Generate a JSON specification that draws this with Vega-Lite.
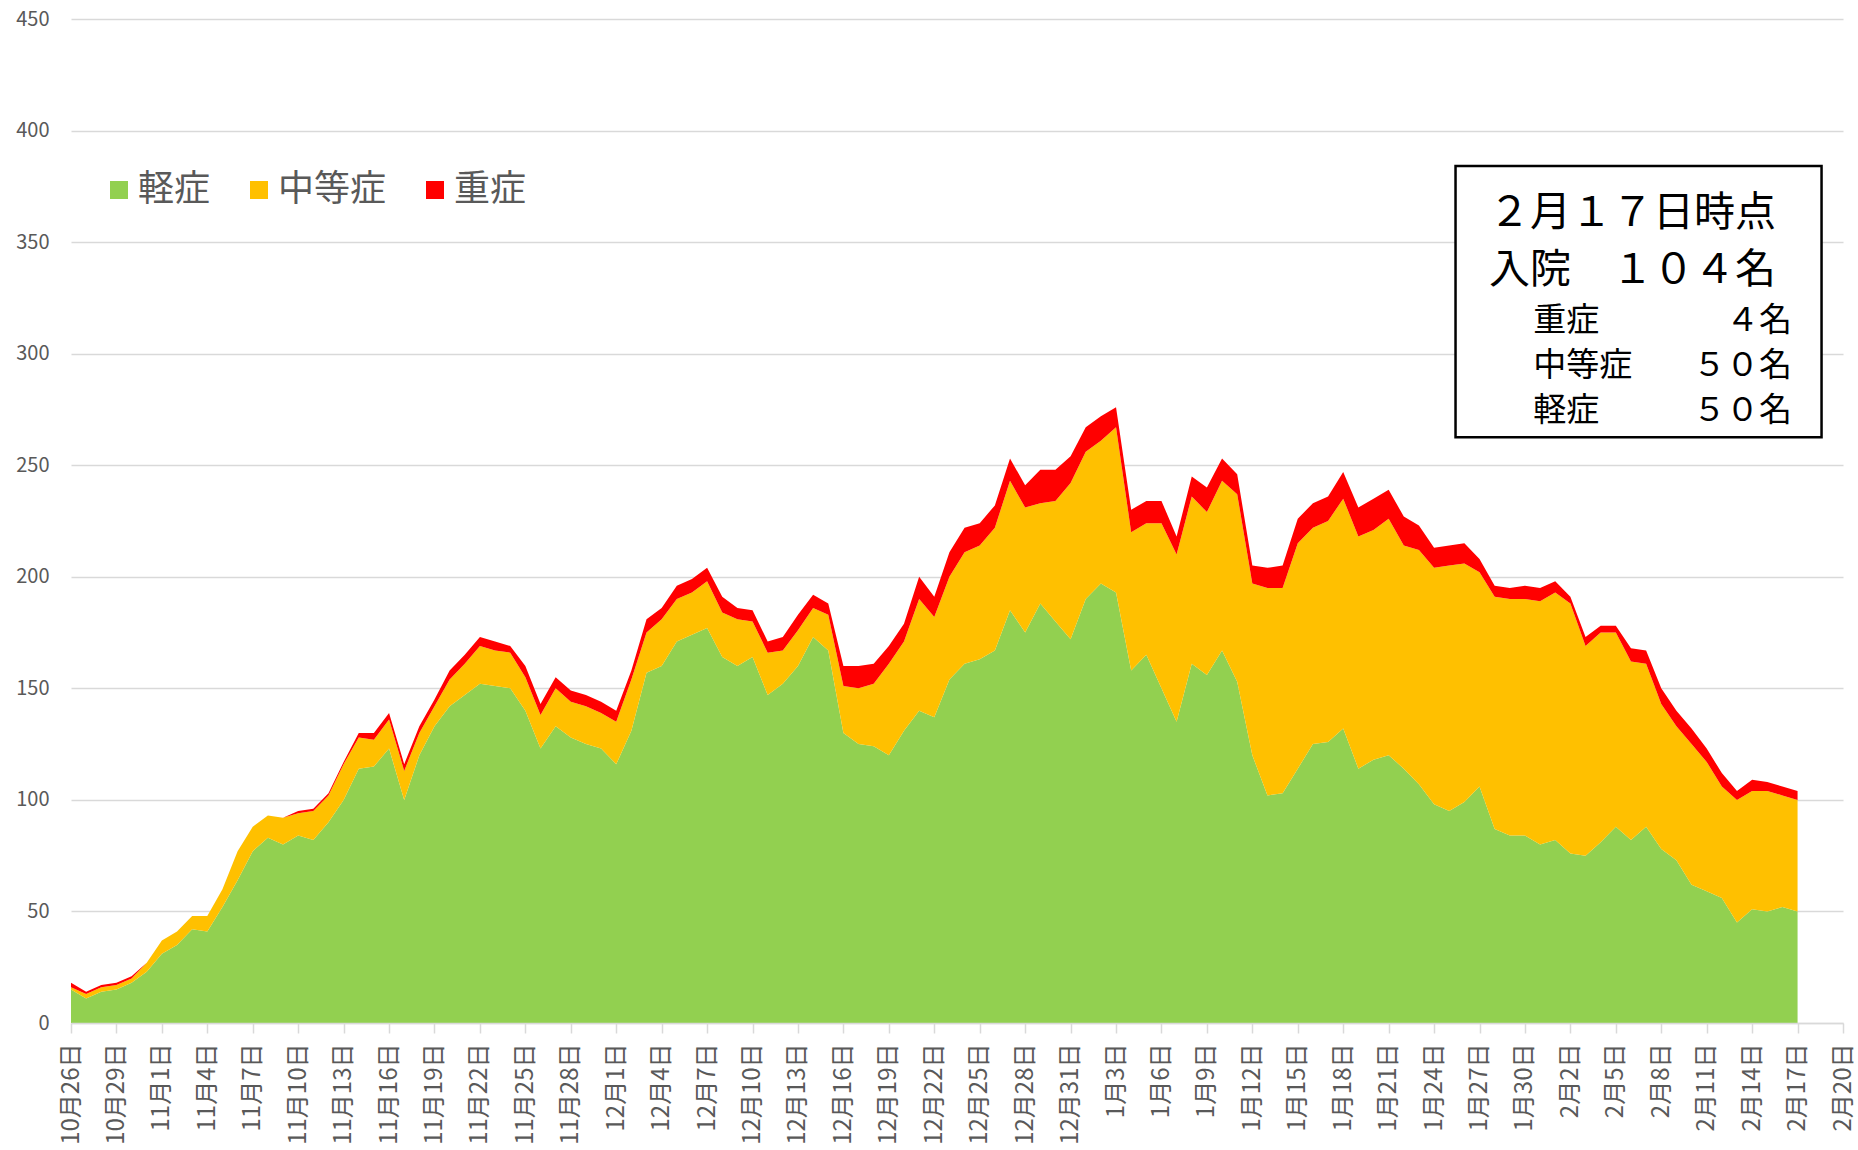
{
  "$schema": "https://vega.github.io/schema/vega-lite/v6.json",
  "autosize": {"type": "none"},
  "width": 1772,
  "height": 1004,
  "padding": {"left": 71, "top": 19, "right": 15, "bottom": 127},
  "background": "white",
  "config": {
    "font": "Noto Sans CJK JP",
    "view": {"stroke": null}
  },
  "layer": [
    {
      "data": {
        "format": {"parse": {"date": "date:'%Y-%m-%d'"}},
        "values": [
          {"date":"2020-10-26","mild":15,"moderate":1,"severe":2},
          {"date":"2020-10-27","mild":11,"moderate":2,"severe":1},
          {"date":"2020-10-28","mild":14,"moderate":2,"severe":1},
          {"date":"2020-10-29","mild":15,"moderate":2,"severe":1},
          {"date":"2020-10-30","mild":18,"moderate":2,"severe":1},
          {"date":"2020-10-31","mild":23,"moderate":4,"severe":0},
          {"date":"2020-11-01","mild":31,"moderate":6,"severe":0},
          {"date":"2020-11-02","mild":35,"moderate":6,"severe":0},
          {"date":"2020-11-03","mild":42,"moderate":6,"severe":0},
          {"date":"2020-11-04","mild":41,"moderate":7,"severe":0},
          {"date":"2020-11-05","mild":52,"moderate":8,"severe":0},
          {"date":"2020-11-06","mild":64,"moderate":13,"severe":0},
          {"date":"2020-11-07","mild":77,"moderate":11,"severe":0},
          {"date":"2020-11-08","mild":83,"moderate":10,"severe":0},
          {"date":"2020-11-09","mild":80,"moderate":12,"severe":0},
          {"date":"2020-11-10","mild":84,"moderate":10,"severe":1},
          {"date":"2020-11-11","mild":82,"moderate":13,"severe":1},
          {"date":"2020-11-12","mild":90,"moderate":12,"severe":1},
          {"date":"2020-11-13","mild":100,"moderate":16,"severe":1},
          {"date":"2020-11-14","mild":114,"moderate":14,"severe":2},
          {"date":"2020-11-15","mild":115,"moderate":12,"severe":3},
          {"date":"2020-11-16","mild":123,"moderate":13,"severe":3},
          {"date":"2020-11-17","mild":100,"moderate":13,"severe":3},
          {"date":"2020-11-18","mild":120,"moderate":10,"severe":3},
          {"date":"2020-11-19","mild":133,"moderate":9,"severe":3},
          {"date":"2020-11-20","mild":142,"moderate":12,"severe":4},
          {"date":"2020-11-21","mild":147,"moderate":14,"severe":4},
          {"date":"2020-11-22","mild":152,"moderate":17,"severe":4},
          {"date":"2020-11-23","mild":151,"moderate":16,"severe":4},
          {"date":"2020-11-24","mild":150,"moderate":16,"severe":3},
          {"date":"2020-11-25","mild":140,"moderate":15,"severe":5},
          {"date":"2020-11-26","mild":123,"moderate":15,"severe":5},
          {"date":"2020-11-27","mild":133,"moderate":17,"severe":5},
          {"date":"2020-11-28","mild":128,"moderate":16,"severe":5},
          {"date":"2020-11-29","mild":125,"moderate":17,"severe":5},
          {"date":"2020-11-30","mild":123,"moderate":16,"severe":5},
          {"date":"2020-12-01","mild":116,"moderate":19,"severe":5},
          {"date":"2020-12-02","mild":131,"moderate":23,"severe":4},
          {"date":"2020-12-03","mild":157,"moderate":18,"severe":6},
          {"date":"2020-12-04","mild":160,"moderate":21,"severe":5},
          {"date":"2020-12-05","mild":171,"moderate":19,"severe":6},
          {"date":"2020-12-06","mild":174,"moderate":19,"severe":6},
          {"date":"2020-12-07","mild":177,"moderate":21,"severe":6},
          {"date":"2020-12-08","mild":164,"moderate":20,"severe":7},
          {"date":"2020-12-09","mild":160,"moderate":21,"severe":5},
          {"date":"2020-12-10","mild":164,"moderate":16,"severe":5},
          {"date":"2020-12-11","mild":147,"moderate":19,"severe":5},
          {"date":"2020-12-12","mild":152,"moderate":15,"severe":6},
          {"date":"2020-12-13","mild":160,"moderate":16,"severe":7},
          {"date":"2020-12-14","mild":173,"moderate":13,"severe":6},
          {"date":"2020-12-15","mild":167,"moderate":16,"severe":5},
          {"date":"2020-12-16","mild":130,"moderate":21,"severe":9},
          {"date":"2020-12-17","mild":125,"moderate":25,"severe":10},
          {"date":"2020-12-18","mild":124,"moderate":28,"severe":9},
          {"date":"2020-12-19","mild":120,"moderate":41,"severe":8},
          {"date":"2020-12-20","mild":131,"moderate":40,"severe":8},
          {"date":"2020-12-21","mild":140,"moderate":50,"severe":10},
          {"date":"2020-12-22","mild":137,"moderate":45,"severe":9},
          {"date":"2020-12-23","mild":154,"moderate":46,"severe":11},
          {"date":"2020-12-24","mild":161,"moderate":50,"severe":11},
          {"date":"2020-12-25","mild":163,"moderate":51,"severe":10},
          {"date":"2020-12-26","mild":167,"moderate":55,"severe":10},
          {"date":"2020-12-27","mild":185,"moderate":58,"severe":10},
          {"date":"2020-12-28","mild":175,"moderate":56,"severe":10},
          {"date":"2020-12-29","mild":188,"moderate":45,"severe":15},
          {"date":"2020-12-30","mild":180,"moderate":54,"severe":14},
          {"date":"2020-12-31","mild":172,"moderate":70,"severe":12},
          {"date":"2021-01-01","mild":190,"moderate":66,"severe":11},
          {"date":"2021-01-02","mild":197,"moderate":64,"severe":11},
          {"date":"2021-01-03","mild":193,"moderate":74,"severe":9},
          {"date":"2021-01-04","mild":158,"moderate":62,"severe":10},
          {"date":"2021-01-05","mild":165,"moderate":59,"severe":10},
          {"date":"2021-01-06","mild":150,"moderate":74,"severe":10},
          {"date":"2021-01-07","mild":135,"moderate":75,"severe":8},
          {"date":"2021-01-08","mild":161,"moderate":75,"severe":9},
          {"date":"2021-01-09","mild":156,"moderate":73,"severe":11},
          {"date":"2021-01-10","mild":167,"moderate":76,"severe":10},
          {"date":"2021-01-11","mild":153,"moderate":84,"severe":9},
          {"date":"2021-01-12","mild":120,"moderate":77,"severe":8},
          {"date":"2021-01-13","mild":102,"moderate":93,"severe":9},
          {"date":"2021-01-14","mild":103,"moderate":92,"severe":10},
          {"date":"2021-01-15","mild":114,"moderate":101,"severe":11},
          {"date":"2021-01-16","mild":125,"moderate":97,"severe":11},
          {"date":"2021-01-17","mild":126,"moderate":99,"severe":11},
          {"date":"2021-01-18","mild":132,"moderate":103,"severe":12},
          {"date":"2021-01-19","mild":114,"moderate":104,"severe":13},
          {"date":"2021-01-20","mild":118,"moderate":103,"severe":14},
          {"date":"2021-01-21","mild":120,"moderate":106,"severe":13},
          {"date":"2021-01-22","mild":114,"moderate":100,"severe":13},
          {"date":"2021-01-23","mild":107,"moderate":105,"severe":11},
          {"date":"2021-01-24","mild":98,"moderate":106,"severe":9},
          {"date":"2021-01-25","mild":95,"moderate":110,"severe":9},
          {"date":"2021-01-26","mild":99,"moderate":107,"severe":9},
          {"date":"2021-01-27","mild":106,"moderate":96,"severe":6},
          {"date":"2021-01-28","mild":87,"moderate":104,"severe":5},
          {"date":"2021-01-29","mild":84,"moderate":106,"severe":5},
          {"date":"2021-01-30","mild":84,"moderate":106,"severe":6},
          {"date":"2021-01-31","mild":80,"moderate":109,"severe":6},
          {"date":"2021-02-01","mild":82,"moderate":111,"severe":5},
          {"date":"2021-02-02","mild":76,"moderate":112,"severe":3},
          {"date":"2021-02-03","mild":75,"moderate":94,"severe":4},
          {"date":"2021-02-04","mild":81,"moderate":94,"severe":3},
          {"date":"2021-02-05","mild":88,"moderate":87,"severe":3},
          {"date":"2021-02-06","mild":82,"moderate":80,"severe":6},
          {"date":"2021-02-07","mild":88,"moderate":73,"severe":6},
          {"date":"2021-02-08","mild":78,"moderate":65,"severe":7},
          {"date":"2021-02-09","mild":73,"moderate":60,"severe":7},
          {"date":"2021-02-10","mild":62,"moderate":63,"severe":7},
          {"date":"2021-02-11","mild":59,"moderate":58,"severe":6},
          {"date":"2021-02-12","mild":56,"moderate":50,"severe":6},
          {"date":"2021-02-13","mild":45,"moderate":55,"severe":4},
          {"date":"2021-02-14","mild":51,"moderate":53,"severe":5},
          {"date":"2021-02-15","mild":50,"moderate":54,"severe":4},
          {"date":"2021-02-16","mild":52,"moderate":50,"severe":4},
          {"date":"2021-02-17","mild":50,"moderate":50,"severe":4}
        ]
      },
      "transform": [{"fold": ["mild", "moderate", "severe"], "as": ["type", "n"]}],
      "mark": {"type": "area", "interpolate": "linear"},
      "encoding": {
        "x": {
          "field": "date", "type": "temporal",
          "scale": {"domain": [{"year":2020,"month":10,"date":26},{"year":2021,"month":2,"date":20}], "nice": false},
          "axis": {
            "title": null, "zindex": 1,
            "values": [
              {"year":2020,"month":10,"date":26},{"year":2020,"month":10,"date":29},
              {"year":2020,"month":11,"date":1},{"year":2020,"month":11,"date":4},{"year":2020,"month":11,"date":7},{"year":2020,"month":11,"date":10},{"year":2020,"month":11,"date":13},{"year":2020,"month":11,"date":16},{"year":2020,"month":11,"date":19},{"year":2020,"month":11,"date":22},{"year":2020,"month":11,"date":25},{"year":2020,"month":11,"date":28},
              {"year":2020,"month":12,"date":1},{"year":2020,"month":12,"date":4},{"year":2020,"month":12,"date":7},{"year":2020,"month":12,"date":10},{"year":2020,"month":12,"date":13},{"year":2020,"month":12,"date":16},{"year":2020,"month":12,"date":19},{"year":2020,"month":12,"date":22},{"year":2020,"month":12,"date":25},{"year":2020,"month":12,"date":28},{"year":2020,"month":12,"date":31},
              {"year":2021,"month":1,"date":3},{"year":2021,"month":1,"date":6},{"year":2021,"month":1,"date":9},{"year":2021,"month":1,"date":12},{"year":2021,"month":1,"date":15},{"year":2021,"month":1,"date":18},{"year":2021,"month":1,"date":21},{"year":2021,"month":1,"date":24},{"year":2021,"month":1,"date":27},{"year":2021,"month":1,"date":30},
              {"year":2021,"month":2,"date":2},{"year":2021,"month":2,"date":5},{"year":2021,"month":2,"date":8},{"year":2021,"month":2,"date":11},{"year":2021,"month":2,"date":14},{"year":2021,"month":2,"date":17},{"year":2021,"month":2,"date":20}
            ],
            "format": "%-m月%-d日",
            "labelAngle": -90,
            "labelFontSize": 24,
            "labelColor": "#595959",
            "labelPadding": 10,
            "labelOverlap": false,
            "labelFlush": false,
            "grid": false,
            "tickColor": "#d9d9d9", "tickSize": 10, "tickWidth": 1.5,
            "domainColor": "#d9d9d9", "domainWidth": 1.5
          }
        },
        "y": {
          "field": "n", "type": "quantitative", "stack": "zero",
          "scale": {"domain": [0, 450], "nice": false},
          "axis": {
            "title": null, "zindex": 0,
            "values": [0, 50, 100, 150, 200, 250, 300, 350, 400, 450],
            "grid": true, "gridColor": "#d9d9d9", "gridWidth": 1.5,
            "domain": false, "ticks": false,
            "labelFontSize": 20, "labelColor": "#595959", "labelPadding": 22
          }
        },
        "color": {
          "field": "type", "type": "nominal",
          "scale": {"domain": ["mild", "moderate", "severe"], "range": ["#92d050", "#ffc000", "#ff0000"]},
          "legend": {
            "title": null,
            "orient": "none", "legendX": 30, "legendY": 153,
            "direction": "horizontal",
            "symbolType": "square", "symbolSize": 324, "symbolStrokeWidth": 0,
            "labelFontSize": 36, "labelColor": "#595959", "labelOffset": 1,
            "columnPadding": 30, "padding": 0,
            "labelExpr": "{'mild': '軽症', 'moderate': '中等症', 'severe': '重症'}[datum.label]"
          }
        },
        "order": {"field": "type", "sort": "ascending"}
      }
    },
    {
      "data": {"values": [{}]},
      "mark": {"type": "rect", "fill": "white", "stroke": "black", "strokeWidth": 2.5},
      "encoding": {
        "x": {"datum": {"year":2021,"month":1,"date":25,"hours":10}, "type": "temporal", "axis": {"title": null},
              "scale": {"domain": [{"year":2020,"month":10,"date":26},{"year":2021,"month":2,"date":20}], "nice": false}},
        "x2": {"datum": {"year":2021,"month":2,"date":18,"hours":14}},
        "y": {"datum": 384.1, "type": "quantitative", "axis": {"title": null}, "scale": {"domain": [0, 450], "nice": false}},
        "y2": {"datum": 262.5}
      }
    },
    {
      "data": {"values": [{}]},
      "mark": {"type": "text", "text": "２月１７日時点", "fontSize": 41, "align": "left", "baseline": "middle", "color": "black"},
      "encoding": {
        "x": {"datum": {"year":2021,"month":1,"date":27,"hours":15}, "type": "temporal", "axis": {"title": null},
              "scale": {"domain": [{"year":2020,"month":10,"date":26},{"year":2021,"month":2,"date":20}], "nice": false}},
        "y": {"datum": 362.5, "type": "quantitative", "axis": {"title": null}, "scale": {"domain": [0, 450], "nice": false}}
      }
    },
    {
      "data": {"values": [{}]},
      "mark": {"type": "text", "text": "入院　１０４名", "fontSize": 41, "align": "left", "baseline": "middle", "color": "black"},
      "encoding": {
        "x": {"datum": {"year":2021,"month":1,"date":27,"hours":15}, "type": "temporal", "axis": {"title": null},
              "scale": {"domain": [{"year":2020,"month":10,"date":26},{"year":2021,"month":2,"date":20}], "nice": false}},
        "y": {"datum": 337.0, "type": "quantitative", "axis": {"title": null}, "scale": {"domain": [0, 450], "nice": false}}
      }
    },
    {
      "data": {"values": [{}]},
      "mark": {"type": "text", "text": "重症", "fontSize": 33, "align": "left", "baseline": "middle", "color": "black"},
      "encoding": {
        "x": {"datum": {"year":2021,"month":1,"date":30,"hours":13}, "type": "temporal", "axis": {"title": null},
              "scale": {"domain": [{"year":2020,"month":10,"date":26},{"year":2021,"month":2,"date":20}], "nice": false}},
        "y": {"datum": 314.8, "type": "quantitative", "axis": {"title": null}, "scale": {"domain": [0, 450], "nice": false}}
      }
    },
    {
      "data": {"values": [{}]},
      "mark": {"type": "text", "text": "中等症", "fontSize": 33, "align": "left", "baseline": "middle", "color": "black"},
      "encoding": {
        "x": {"datum": {"year":2021,"month":1,"date":30,"hours":13}, "type": "temporal", "axis": {"title": null},
              "scale": {"domain": [{"year":2020,"month":10,"date":26},{"year":2021,"month":2,"date":20}], "nice": false}},
        "y": {"datum": 294.5, "type": "quantitative", "axis": {"title": null}, "scale": {"domain": [0, 450], "nice": false}}
      }
    },
    {
      "data": {"values": [{}]},
      "mark": {"type": "text", "text": "軽症", "fontSize": 33, "align": "left", "baseline": "middle", "color": "black"},
      "encoding": {
        "x": {"datum": {"year":2021,"month":1,"date":30,"hours":13}, "type": "temporal", "axis": {"title": null},
              "scale": {"domain": [{"year":2020,"month":10,"date":26},{"year":2021,"month":2,"date":20}], "nice": false}},
        "y": {"datum": 274.4, "type": "quantitative", "axis": {"title": null}, "scale": {"domain": [0, 450], "nice": false}}
      }
    },
    {
      "data": {"values": [{}]},
      "mark": {"type": "text", "text": "４名", "fontSize": 33, "align": "right", "baseline": "middle", "color": "black"},
      "encoding": {
        "x": {"datum": {"year":2021,"month":2,"date":16,"hours":15}, "type": "temporal", "axis": {"title": null},
              "scale": {"domain": [{"year":2020,"month":10,"date":26},{"year":2021,"month":2,"date":20}], "nice": false}},
        "y": {"datum": 314.8, "type": "quantitative", "axis": {"title": null}, "scale": {"domain": [0, 450], "nice": false}}
      }
    },
    {
      "data": {"values": [{}]},
      "mark": {"type": "text", "text": "５０名", "fontSize": 33, "align": "right", "baseline": "middle", "color": "black"},
      "encoding": {
        "x": {"datum": {"year":2021,"month":2,"date":16,"hours":15}, "type": "temporal", "axis": {"title": null},
              "scale": {"domain": [{"year":2020,"month":10,"date":26},{"year":2021,"month":2,"date":20}], "nice": false}},
        "y": {"datum": 294.5, "type": "quantitative", "axis": {"title": null}, "scale": {"domain": [0, 450], "nice": false}}
      }
    },
    {
      "data": {"values": [{}]},
      "mark": {"type": "text", "text": "５０名", "fontSize": 33, "align": "right", "baseline": "middle", "color": "black"},
      "encoding": {
        "x": {"datum": {"year":2021,"month":2,"date":16,"hours":15}, "type": "temporal", "axis": {"title": null},
              "scale": {"domain": [{"year":2020,"month":10,"date":26},{"year":2021,"month":2,"date":20}], "nice": false}},
        "y": {"datum": 274.4, "type": "quantitative", "axis": {"title": null}, "scale": {"domain": [0, 450], "nice": false}}
      }
    }
  ]
}
